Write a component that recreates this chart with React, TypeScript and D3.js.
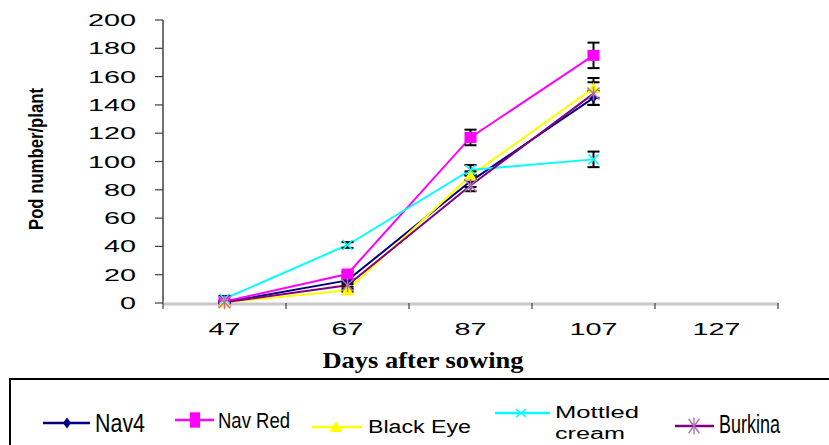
import React from "react";
import * as d3 from "d3";

const categories = ["47", "67", "87", "107", "127"];
const yTicks = [0, 20, 40, 60, 80, 100, 120, 140, 160, 180, 200];

const seriesNames = ["Nav4", "Nav Red", "Black Eye", "Mottled cream", "Burkina"];
const nav4 = [0.5, 16, 86, 145];
const navRed = [1, 20.5, 117, 175];
const blackEye = [0.5, 9, 90, 152];
const mottled = [3, 41, 94, 101.5];
const burkina = [0.5, 12.5, 83, 148];

const nav4Err = [0.5, 1, 4, 5];
const navRedErr = [0.5, 1.5, 5.5, 9];
const blackEyeErr = [0.5, 1, 3, 7];
const mottledErr = [2, 2, 3.5, 5.5];
const burkinaErr = [0.5, 1, 4, 8];

const W = 829;
const H = 445;

const x = d3.scaleBand<string>().domain(categories).range([163, 778]);
const y = d3.scaleLinear().domain([0, 200]).range([303, 20]);

type Series = {
  name: string;
  values: number[];
  err: number[];
  color: string;
  marker: string;
  markerColor: string;
};

const series: Series[] = [
  { name: seriesNames[0], values: nav4, err: nav4Err, color: "#000080", marker: "diamond", markerColor: "#000080" },
  { name: seriesNames[1], values: navRed, err: navRedErr, color: "#FF00FF", marker: "square", markerColor: "#FF00FF" },
  { name: seriesNames[2], values: blackEye, err: blackEyeErr, color: "#FFFF00", marker: "triangle", markerColor: "#FFFF00" },
  { name: seriesNames[3], values: mottled, err: mottledErr, color: "#00FFFF", marker: "x", markerColor: "#00FFFF" },
  { name: seriesNames[4], values: burkina, err: burkinaErr, color: "#800080", marker: "star", markerColor: "#B070B0" },
];

function Marker({ type, cx, cy, color, sx = 1, sy = 1 }: { type: string; cx: number; cy: number; color: string; sx?: number; sy?: number }) {
  let el: React.ReactNode;
  if (type === "diamond") {
    const s = 5;
    el = <path d={`M0,${-s}L${s - 1},0L0,${s}L${-s + 1},0Z`} fill={color} />;
  } else if (type === "square") {
    el = <rect x={-6} y={-5.5} width={12} height={11} fill={color} />;
  } else if (type === "triangle") {
    el = <path d={`M0,-6L6.5,5L-6.5,5Z`} fill={color} />;
  } else if (type === "x") {
    const s = 5;
    el = (
      <g stroke={color} strokeWidth={1.5}>
        <line x1={-s} y1={-s} x2={s} y2={s} />
        <line x1={-s} y1={s} x2={s} y2={-s} />
      </g>
    );
  } else {
    const s = 6;
    el = (
      <g stroke={color} strokeWidth={1.5}>
        <line x1={-s} y1={-s} x2={s} y2={s} />
        <line x1={-s} y1={s} x2={s} y2={-s} />
        <line x1={0} y1={-s - 1} x2={0} y2={s + 1} />
      </g>
    );
  }
  return <g transform={`translate(${cx},${cy}) scale(${sx},${sy})`}>{el}</g>;
}

export default function App() {
  const bw = x.bandwidth();
  const cxOf = (i: number) => (x(categories[i]) as number) + bw / 2;
  const line = d3
    .line<number>()
    .x((_, i) => cxOf(i))
    .y((d) => y(d));

  const legendItems = [
    { lx1: 43, lx2: 90, ly: 423, mx: 67, msx: 1, msy: 1.1, text: ["Nav4"], tx: 95, ty: [432], tl: [50], fs: 26 },
    { lx1: 175, lx2: 214, ly: 420, mx: 195, msx: 0.85, msy: 1.4, text: ["Nav Red"], tx: 218, ty: [428], tl: [72], fs: 22 },
    { lx1: 312, lx2: 362, ly: 427, mx: 336, msx: 1, msy: 1, text: ["Black Eye"], tx: 368, ty: [433], tl: [103], fs: 18 },
    { lx1: 495, lx2: 550, ly: 413, mx: 521, msx: 1, msy: 0.8, text: ["Mottled", "cream"], tx: 555, ty: [418, 439], tl: [84, 70], fs: 16 },
    { lx1: 675, lx2: 714, ly: 426, mx: 694, msx: 0.9, msy: 1.2, text: ["Burkina"], tx: 719, ty: [433], tl: [61], fs: 25 },
  ];

  return (
    <svg width={W} height={H} style={{ position: "absolute", left: 0, top: 0, background: "#fff" }}>
      <rect x={0} y={0} width={W} height={H} fill="#fff" />
      <line x1={163} y1={20} x2={163} y2={304} stroke="#404040" strokeWidth={1.5} />
      {yTicks.map((t) => (
        <g key={t}>
          <line x1={155} x2={163} y1={y(t)} y2={y(t)} stroke="#404040" strokeWidth={1.2} />
          <text
            x={136}
            y={y(t) + 6}
            textAnchor="end"
            fontFamily="Liberation Sans"
            fontSize={17}
            textLength={String(t).length * 16}
            lengthAdjust="spacingAndGlyphs"
            fill="#000"
          >
            {t}
          </text>
        </g>
      ))}
      <line x1={163} y1={304} x2={779} y2={304} stroke="#C8C8C8" strokeWidth={3} />
      {categories.map((c) => (
        <line key={"t" + c} x1={x(c) as number} x2={x(c) as number} y1={303} y2={309} stroke="#404040" strokeWidth={1.2} />
      ))}
      <line x1={778} x2={778} y1={303} y2={309} stroke="#404040" strokeWidth={1.2} />
      {categories.map((c, i) => (
        <text
          key={"l" + c}
          x={cxOf(i)}
          y={335}
          textAnchor="middle"
          fontFamily="Liberation Sans"
          fontSize={17}
          textLength={c.length * 16}
          lengthAdjust="spacingAndGlyphs"
        >
          {c}
        </text>
      ))}
      <text
        x={423}
        y={368}
        textAnchor="middle"
        fontFamily="Liberation Serif"
        fontWeight="bold"
        fontSize={23}
        textLength={201}
        lengthAdjust="spacingAndGlyphs"
      >
        Days after sowing
      </text>
      <text
        transform="translate(43,159) rotate(-90)"
        textAnchor="middle"
        fontFamily="Liberation Sans"
        fontWeight="bold"
        fontSize={20}
        textLength={142}
        lengthAdjust="spacingAndGlyphs"
      >
        Pod number/plant
      </text>
      {series.map((s) => (
        <path key={"p" + s.name} d={line(s.values) || ""} fill="none" stroke={s.color} strokeWidth={2} />
      ))}
      {series.map((s) =>
        s.values.map((v, i) => {
          const cx = cxOf(i);
          const y1 = y(v + s.err[i]);
          const y2 = y(v - s.err[i]);
          return (
            <g key={"e" + s.name + i} stroke="#000" strokeWidth={2}>
              <line x1={cx} x2={cx} y1={y1} y2={y2} />
              <line x1={cx - 6} x2={cx + 6} y1={y1} y2={y1} />
              <line x1={cx - 6} x2={cx + 6} y1={y2} y2={y2} />
            </g>
          );
        })
      )}
      {series.map((s) =>
        s.values.map((v, i) => (
          <Marker key={s.name + i} type={s.marker} cx={cxOf(i)} cy={y(v)} color={s.markerColor} />
        ))
      )}
      <rect x={10} y={379} width={840} height={100} fill="none" stroke="#000" strokeWidth={2} />
      {legendItems.map((it, k) => (
        <g key={"lg" + k}>
          <line x1={it.lx1} x2={it.lx2} y1={it.ly} y2={it.ly} stroke={series[k].color} strokeWidth={2.5} />
          <Marker type={series[k].marker} cx={it.mx} cy={it.ly} color={series[k].markerColor} sx={it.msx} sy={it.msy} />
          {it.text.map((t, j) => (
            <text
              key={t}
              x={it.tx}
              y={it.ty[j]}
              fontFamily="Liberation Sans"
              fontSize={it.fs}
              textLength={it.tl[j]}
              lengthAdjust="spacingAndGlyphs"
            >
              {t}
            </text>
          ))}
        </g>
      ))}
    </svg>
  );
}
